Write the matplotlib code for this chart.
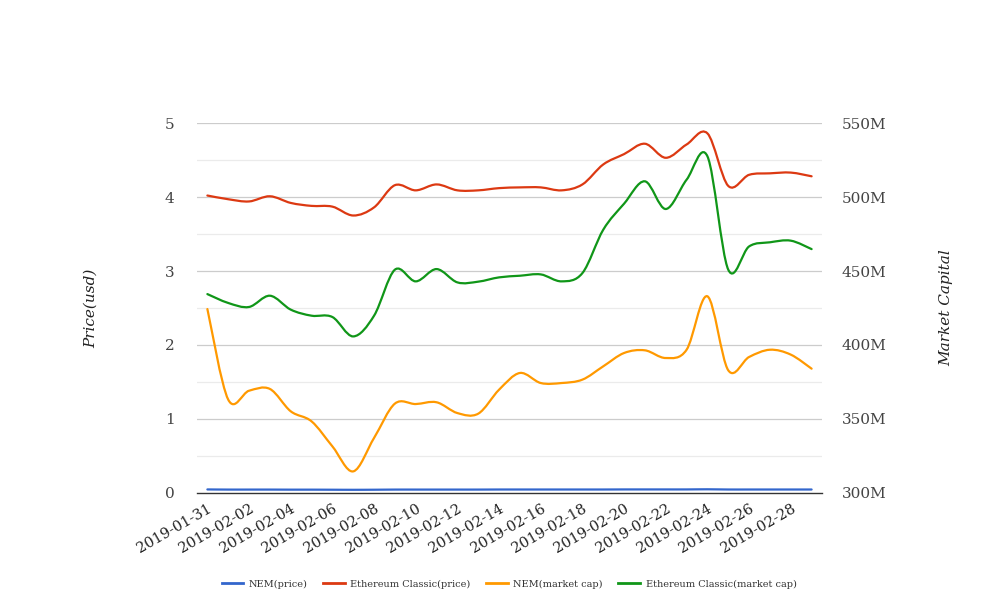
import pandas as pd
import matplotlib
matplotlib.use('Agg')
import matplotlib.pyplot as plt
from matplotlib.path import Path
from matplotlib.patches import PathPatch
from matplotlib.lines import Line2D

datas = pd.date_range('2019-01-31', '2019-03-01', freq='D').strftime('%Y-%m-%d').tolist()

nem_preco = [0.048, 0.046, 0.046, 0.046, 0.045, 0.045, 0.044, 0.043, 0.044, 0.046,
             0.046, 0.046, 0.046, 0.046, 0.047, 0.047, 0.047, 0.047, 0.047, 0.047,
             0.048, 0.048, 0.048, 0.048, 0.050, 0.047, 0.047, 0.047, 0.047, 0.047]
etc_preco = [4.02, 3.97, 3.94, 4.01, 3.92, 3.88, 3.87, 3.75, 3.86, 4.16,
             4.09, 4.17, 4.09, 4.09, 4.12, 4.13, 4.13, 4.09, 4.17, 4.44,
             4.58, 4.72, 4.53, 4.71, 4.86, 4.15, 4.30, 4.32, 4.33, 4.28]
nem_cap = [424.3, 363.1, 369.1, 370.3, 355.2, 348.4, 331.5, 314.6, 337.2, 360.4,
           360.1, 361.3, 354.0, 353.6, 369.8, 381.1, 374.3, 374.3, 376.6, 385.6,
           394.6, 396.4, 391.2, 396.8, 432.9, 382.9, 391.9, 396.8, 393.5, 384.0]
etc_cap = [434.4, 428.4, 425.7, 433.3, 423.9, 419.8, 418.9, 405.8, 419.8, 450.9,
           443.0, 451.3, 442.3, 442.8, 445.7, 446.8, 447.7, 443.0, 448.6, 477.9,
           495.5, 510.6, 491.9, 511.7, 527.5, 450.9, 466.6, 469.4, 470.5, 464.8]

COR_NEM_P = '#3366cc'
COR_ETC_P = '#dc3912'
COR_NEM_C = '#ff9900'
COR_ETC_C = '#109618'
FONTE = 'DejaVu Serif'


def curva_suave(ax, ys, cor):
    # curva de bezier tipo catmull-rom passando pelos pontos
    xs = list(range(len(ys)))
    pts = list(zip(xs, ys))
    verts = [pts[0]]
    codes = [Path.MOVETO]
    n = len(pts)
    for i in range(n - 1):
        p0 = pts[i - 1] if i > 0 else pts[i]
        p1 = pts[i]
        p2 = pts[i + 1]
        p3 = pts[i + 2] if i + 2 < n else pts[i + 1]
        c1 = (p1[0] + (p2[0] - p0[0]) / 6, p1[1] + (p2[1] - p0[1]) / 6)
        c2 = (p2[0] - (p3[0] - p1[0]) / 6, p2[1] - (p3[1] - p1[1]) / 6)
        verts += [c1, c2, p2]
        codes += [Path.CURVE4] * 3
    ax.add_patch(PathPatch(Path(verts, codes), fill=False, edgecolor=cor,
                           linewidth=1.6, zorder=3, capstyle='round'))


fig = plt.figure(figsize=(10.08, 6.16), dpi=100)
ax = fig.add_axes([0.1954, 0.1997, 0.6201, 0.6006])
ax2 = ax.twinx()

ax.set_xlim(-0.5, len(datas) - 0.5)
ax.set_ylim(0, 5)
ax2.set_ylim(300, 550)

curva_suave(ax, nem_preco, COR_NEM_P)
curva_suave(ax, etc_preco, COR_ETC_P)
curva_suave(ax2, nem_cap, COR_NEM_C)
curva_suave(ax2, etc_cap, COR_ETC_C)

for v in range(0, 6):
    if v > 0:
        ax.axhline(v, color='#cccccc', linewidth=0.9, zorder=0)
    ax.axhline(v - 0.5, color='#ebebeb', linewidth=0.9, zorder=0)

for s in ['top', 'right', 'left']:
    ax.spines[s].set_visible(False)
    ax2.spines[s].set_visible(False)
ax2.spines['bottom'].set_visible(False)
ax.spines['bottom'].set_color('#333333')
ax.spines['bottom'].set_linewidth(1.0)

ax.set_yticks(range(0, 6))
ax.set_yticklabels([str(v) for v in range(0, 6)], fontsize=11, color='#444444', family=FONTE)
ax.tick_params(axis='y', length=0, pad=16)
ax2.set_yticks(range(300, 551, 50))
ax2.set_yticklabels([f'{v}M' for v in range(300, 551, 50)], fontsize=11, color='#444444', family=FONTE)
ax2.tick_params(axis='y', length=0, pad=14)

ax.set_xticks(range(0, len(datas), 2))
ax.set_xticklabels(datas[::2], rotation=30, ha='right', rotation_mode='anchor',
                   fontsize=10.5, color='#222222', family=FONTE)
ax.tick_params(axis='x', length=0, pad=6)

fig.text(0.09, 0.5, 'Price(usd)', rotation=90, ha='center', va='center',
         fontsize=11, style='italic', color='#222222', family=FONTE)
fig.text(0.939, 0.5, 'Market Capital', rotation=90, ha='center', va='center',
         fontsize=11, style='italic', color='#222222', family=FONTE)

handles = [Line2D([], [], color=c, linewidth=2) for c in
           [COR_NEM_P, COR_ETC_P, COR_NEM_C, COR_ETC_C]]
labels = ['NEM(price)', 'Ethereum Classic(price)', 'NEM(market cap)', 'Ethereum Classic(market cap)']
fig.legend(handles, labels, loc='center', bbox_to_anchor=(0.505, 0.052), ncol=4,
           frameon=False, prop={'family': FONTE, 'size': 7}, handlelength=2.2,
           columnspacing=1.6, handletextpad=0.6, labelcolor='#333333')

plt.savefig('out.png', dpi=100, facecolor='white')
